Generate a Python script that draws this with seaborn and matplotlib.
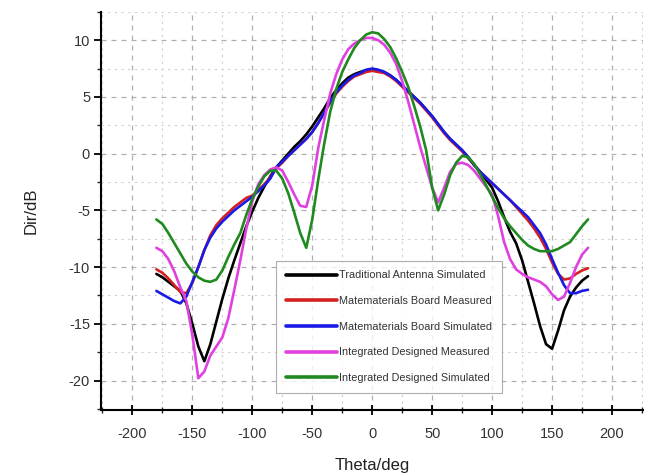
import numpy as np
import pandas as pd
import matplotlib
matplotlib.use("Agg")
import matplotlib.pyplot as plt
import seaborn as sns
from matplotlib.ticker import MultipleLocator

# angles, 5 degree steps from -180 to 180
theta = list(range(-180, 185, 5))

trad_sim = [-10.6, -10.9, -11.3, -11.7, -12.1, -13.2, -15.0, -17.0, -18.3, -16.8,
            -14.8, -12.8, -11.0, -9.4, -7.9, -6.4, -5.1, -3.9, -2.9, -2.0,
            -1.2, -0.6, 0.0, 0.6, 1.1, 1.7, 2.4, 3.2, 4.0, 4.9,
            5.6, 6.2, 6.7, 7.0, 7.2, 7.35, 7.4, 7.35, 7.2, 6.9,
            6.5, 6.0, 5.5, 5.0, 4.5, 3.9, 3.3, 2.6, 1.9, 1.3,
            0.8, 0.3, -0.3, -1.0, -1.6, -2.3, -3.0, -4.2, -5.6, -6.9,
            -7.9, -9.4, -11.3, -13.2, -15.2, -16.8, -17.2, -15.6, -13.8, -12.6,
            -11.8, -11.2, -10.8]

meta_meas = [-10.2, -10.5, -11.0, -11.6, -12.2, -12.3, -11.4, -10.0, -8.5, -7.2,
             -6.3, -5.7, -5.2, -4.7, -4.3, -3.9, -3.7, -3.2, -2.7, -2.1,
             -1.3, -0.8, -0.2, 0.3, 0.8, 1.3, 1.9, 2.7, 3.6, 4.5,
             5.3, 5.9, 6.4, 6.8, 7.0, 7.2, 7.3, 7.2, 7.1, 6.8,
             6.4, 5.9, 5.4, 4.9, 4.4, 3.8, 3.2, 2.5, 1.8, 1.2,
             0.7, 0.2, -0.4, -1.0, -1.6, -2.1, -2.6, -3.1, -3.6, -4.1,
             -4.7, -5.3, -5.9, -6.6, -7.4, -8.4, -9.6, -10.6, -11.1, -11.0,
             -10.6, -10.3, -10.1]

meta_sim = [-12.1, -12.4, -12.7, -13.0, -13.2, -12.6, -11.3, -10.0, -8.5, -7.4,
            -6.6, -6.0, -5.5, -5.0, -4.6, -4.2, -3.8, -3.3, -2.8, -2.2,
            -1.2, -0.7, -0.2, 0.3, 0.8, 1.3, 1.9, 2.7, 3.6, 4.6,
            5.4, 6.0, 6.5, 6.9, 7.1, 7.4, 7.5, 7.4, 7.2, 6.9,
            6.5, 6.0, 5.5, 5.0, 4.5, 3.9, 3.3, 2.6, 1.9, 1.3,
            0.8, 0.3, -0.3, -1.0, -1.6, -2.1, -2.6, -3.1, -3.6, -4.1,
            -4.6, -5.1, -5.6, -6.3, -7.0, -8.0, -9.3, -10.5, -11.6, -12.3,
            -12.3, -12.1, -12.0]

integ_meas = [-8.3, -8.6, -9.3, -10.4, -11.8, -13.0, -16.0, -19.8, -19.2, -17.8,
              -17.0, -16.2, -14.5, -12.0, -9.4, -6.6, -4.2, -2.7, -1.9, -1.4,
              -1.2, -1.5, -2.5, -3.6, -4.6, -4.7, -2.8, 0.5, 3.0, 5.3,
              7.0, 8.3, 9.2, 9.7, 10.0, 10.2, 10.2, 10.0, 9.6, 8.9,
              7.9, 6.4, 4.6, 2.6, 0.6, -1.2, -3.0, -4.3, -3.0, -1.6,
              -0.9, -0.8, -1.0, -1.5, -2.2, -2.9, -3.6, -5.5, -7.8, -9.3,
              -10.2, -10.6, -10.9, -11.1, -11.3, -11.7, -12.4, -12.9, -12.6, -11.4,
              -10.0, -8.9, -8.3]

integ_sim = [-5.8, -6.2, -7.0, -7.9, -8.8, -9.7, -10.4, -10.9, -11.2, -11.3,
             -11.1, -10.3, -9.1, -8.0, -7.0, -5.4, -4.0, -2.9, -2.0, -1.5,
             -1.5, -2.2, -3.5, -5.2, -7.0, -8.3, -5.8, -2.3, 0.9, 3.7,
             5.7, 7.2, 8.3, 9.3, 10.0, 10.5, 10.7, 10.6, 10.1, 9.4,
             8.4, 7.2, 5.9, 4.2, 2.4, 0.3, -3.0, -5.0, -3.6, -1.9,
             -0.8, -0.2, -0.3, -0.9, -1.8, -2.8, -3.8, -4.8, -5.7, -6.4,
             -7.0, -7.6, -8.1, -8.4, -8.6, -8.6, -8.6, -8.4, -8.1, -7.8,
             -7.1, -6.4, -5.8]

labels = ["Traditional Antenna Simulated", "Matematerials Board Measured",
          "Matematerials Board Simulated", "Integrated Designed Measured",
          "Integrated Designed Simulated"]
colors = ["#000000", "#d42020", "#1a1ae6", "#e040e0", "#1f8a1f"]

series = [trad_sim, meta_meas, meta_sim, integ_meas, integ_sim]
df = pd.concat([pd.DataFrame({"theta": theta, "dir": s, "curve": lab})
                for s, lab in zip(series, labels)], ignore_index=True)

sns.set_style("white")
plt.rcParams['font.family'] = ['Liberation Sans', 'DejaVu Sans']
plt.rcParams['axes.unicode_minus'] = False

fig = plt.figure(figsize=(6.53, 4.74), dpi=100)
ax = fig.add_axes([0.155, 0.135, 0.830, 0.840])

sns.lineplot(data=df, x="theta", y="dir", hue="curve", hue_order=labels,
             palette=dict(zip(labels, colors)), linewidth=1.9, ax=ax, sort=False)

ax.set_xlim(-226, 226)
ax.set_ylim(-22.6, 12.5)
ax.xaxis.set_major_locator(MultipleLocator(50))
ax.xaxis.set_minor_locator(MultipleLocator(25))
ax.yaxis.set_major_locator(MultipleLocator(5))
ax.yaxis.set_minor_locator(MultipleLocator(2.5))

ax.grid(True, which="major", color="#b0b0b0", linestyle=(0, (4, 4)), linewidth=0.9)
ax.grid(True, which="minor", color="#d0d0d0", linestyle=(0, (2, 4)), linewidth=0.8)
ax.set_axisbelow(True)

for side in ["top", "right"]:
    ax.spines[side].set_visible(False)
for side in ["left", "bottom"]:
    ax.spines[side].set_color("black")
    ax.spines[side].set_linewidth(1.5)

ax.tick_params(axis="x", which="major", direction="inout", length=7, width=1.3,
               labelsize=10.5, colors="black", labelcolor="#333333", pad=9)
ax.tick_params(axis="x", which="minor", direction="inout", length=4, width=1.0)
ax.tick_params(axis="y", which="major", direction="out", length=5, width=1.3,
               labelsize=10.5, colors="black", labelcolor="#333333", pad=3)
ax.tick_params(axis="y", which="minor", direction="out", length=3, width=1.0)
ax.tick_params(bottom=True, left=True, which="both")

ax.set_xlabel("Theta/deg", fontsize=12, color="#222222", labelpad=12)
ax.set_ylabel("Dir/dB", fontsize=12, color="#222222", labelpad=22)

leg = ax.legend(loc="lower center", bbox_to_anchor=(0.531, 0.043), fontsize=7.8,
                frameon=True, fancybox=False, edgecolor="#999999",
                handlelength=4.7, labelspacing=1.45, borderpad=0.9,
                handletextpad=0.25, borderaxespad=0)
leg.get_frame().set_linewidth(0.8)
for line in leg.get_lines():
    line.set_linewidth(2.6)
for t in leg.get_texts():
    t.set_color("#333333")

fig.savefig("out.png", dpi=100)
